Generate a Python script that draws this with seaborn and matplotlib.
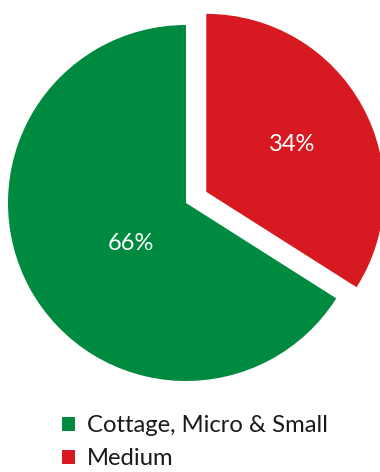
import matplotlib
matplotlib.use("Agg")
import matplotlib.pyplot as plt
import seaborn as sns
from matplotlib.patches import Patch

sns.set_theme(style="white")
plt.rcParams['font.family'] = ['Lato', 'DejaVu Sans']

categories = ["Medium", "Cottage, Micro & Small"]
values = [34, 66]
colors = ["#D71A21", "#008A3F"]
explode = [0.13, 0]
legend_order = ["Cottage, Micro & Small", "Medium"]

fig = plt.figure(figsize=(3.8, 4.72), dpi=100)
ax = fig.add_axes([0, 0, 1, 1])
wedges, texts, autotexts = ax.pie(
    values, colors=colors, explode=explode, startangle=90, counterclock=False,
    autopct=lambda p: f"{p:.0f}%", pctdistance=0.55,
    textprops=dict(color="white", fontsize=17),
    wedgeprops=dict(linewidth=0),
)
# green label sits a bit closer to the centre
autotexts[1].set_position((-0.31, -0.23))
ax.set_xlim(-186 / 178, 194 / 178)
ax.set_ylim(-269 / 178, 203 / 178)
ax.set_aspect('auto')
ax.axis('off')

col = dict(zip(categories, colors))
handles = [Patch(facecolor=col[c], edgecolor='none') for c in legend_order]
fig.legend(handles, legend_order, loc='upper left', bbox_to_anchor=(0.163, 0.12),
           frameon=False, fontsize=17.2, handlelength=0.55, handleheight=0.55,
           handletextpad=0.5, labelspacing=0.5, borderaxespad=0, borderpad=0,
           labelcolor='#1a1a1a')

fig.savefig("out.png", dpi=100)
